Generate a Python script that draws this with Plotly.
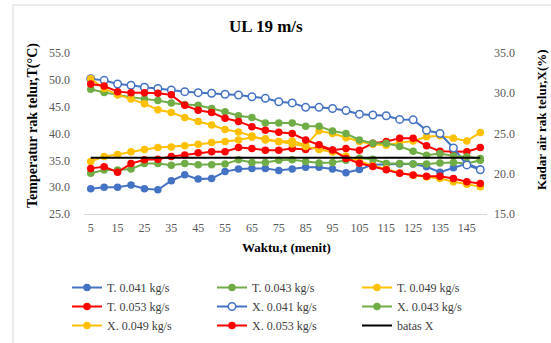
import plotly.graph_objects as go

waktu = [5, 10, 15, 20, 25, 30, 35, 40, 45, 50, 55, 60, 65, 70, 75,
         80, 85, 90, 95, 100, 105, 110, 115, 120, 125, 130, 135, 140, 145, 150]
x_ticks = [5, 15, 25, 35, 45, 55, 65, 75, 85, 95, 105, 115, 125, 135, 145]

T_041 = [29.7, 30.0, 30.0, 30.4, 29.7, 29.5, 31.2, 32.3, 31.5, 31.6, 32.9, 33.4, 33.5, 33.5, 33.1,
         33.4, 33.7, 33.7, 33.4, 32.7, 33.3, 34.2, 34.3, 34.3, 34.3, 33.8, 32.8, 33.6, 34.4, 33.4]
T_043 = [32.6, 33.2, 33.2, 33.4, 34.4, 34.4, 34.1, 34.4, 34.2, 34.2, 34.3, 35.1, 34.6, 34.6, 35.0,
         35.1, 34.8, 34.5, 34.6, 35.0, 35.4, 35.2, 34.4, 34.4, 34.3, 34.3, 34.5, 34.6, 34.4, 35.0]
T_049 = [34.8, 35.7, 36.1, 36.6, 37.0, 37.4, 37.5, 37.7, 38.0, 38.3, 38.5, 38.8, 39.3, 39.0, 38.5,
         38.6, 37.8, 40.5, 40.0, 39.2, 38.5, 38.0, 37.8, 38.3, 38.6, 39.4, 39.6, 39.1, 38.6, 40.2]
T_053 = [33.5, 33.8, 32.8, 34.4, 35.1, 35.2, 35.7, 36.0, 36.4, 36.6, 36.6, 37.4, 37.2, 36.9, 36.9,
         37.2, 37.0, 37.5, 36.9, 37.2, 36.9, 38.2, 38.5, 39.1, 39.1, 37.7, 36.7, 36.6, 36.6, 37.4]

X_041 = [31.8, 31.6, 31.15, 31.0, 30.74, 30.6, 30.4, 30.2, 30.07, 30.0, 29.87, 29.78, 29.57, 29.37, 28.95,
         28.8, 28.25, 28.25, 28.1, 27.85, 27.4, 27.3, 27.2, 26.75, 26.7, 25.4, 25.0, 23.2, 21.1, 20.5]
X_043 = [30.5, 30.1, 29.8, 29.5, 29.3, 29.1, 28.8, 28.6, 28.5, 28.1, 27.7, 27.2, 27.0, 26.3, 26.3,
         26.3, 25.9, 25.9, 25.3, 25.0, 24.2, 23.8, 23.8, 23.4, 22.8, 22.3, 22.5, 22.2, 22.1, 21.9]
X_049 = [31.8, 30.6, 29.8, 29.3, 28.7, 27.95, 27.6, 27.0, 26.5, 26.05, 25.5, 25.2, 24.7, 24.2, 24.0,
         23.7, 23.4, 23.0, 22.7, 22.2, 21.6, 21.0, 20.6, 20.1, 19.8, 19.6, 19.4, 19.0, 18.7, 18.4]
X_053 = [31.15, 30.9, 30.2, 30.07, 30.07, 30.0, 29.8, 28.5, 27.9, 27.6, 26.9, 26.5, 25.85, 25.4, 25.15,
         25.0, 24.2, 23.6, 22.95, 21.9, 21.3, 20.9, 20.5, 20.05, 19.85, 19.7, 19.7, 19.4, 19.0, 18.8]
batas_X = [22.0, 22.0, 22.0, 22.0, 22.0, 22.0, 22.0, 22.0, 22.0, 22.0, 22.0, 22.0, 22.0, 22.0, 22.0,
           22.0, 22.0, 22.0, 22.0, 22.0, 22.0, 22.0, 22.0, 22.0, 22.0, 22.0, 22.0, 22.0, 22.0, 22.0]

BLUE = "#4472C4"
GREEN = "#70AD47"
GOLD = "#FFC000"
RED = "#FF0000"
SERIF = "Liberation Serif, Times New Roman, serif"

fig = go.Figure()

def add(name, y, color, axis, hollow=False):
    fig.add_trace(go.Scatter(
        x=waktu, y=y, name=name, yaxis=axis, mode="lines+markers",
        line=dict(color=color, width=2),
        marker=dict(color="white" if hollow else color, symbol="circle", size=7.5,
                    line=dict(color=color, width=1.5 if hollow else 0)),
    ))

add("T. 0.041 kg/s", T_041, BLUE, "y")
add("T. 0.043 kg/s", T_043, GREEN, "y")
add("T. 0.049 kg/s", T_049, GOLD, "y")
add("T. 0.053 kg/s", T_053, RED, "y")
add("X. 0.041 kg/s", X_041, BLUE, "y2", hollow=True)
add("X. 0.043 kg/s", X_043, GREEN, "y2")
add("X. 0.049 kg/s", X_049, GOLD, "y2")
add("X. 0.053 kg/s", X_053, RED, "y2")
fig.add_trace(go.Scatter(x=waktu, y=batas_X, name="batas X", yaxis="y2", mode="lines",
                         line=dict(color="#000000", width=2)))

# plot area in page pixels: x 84..487, y 53..214
PX0, PW, PY1, PH = 84, 403, 214, 161

def px(x):
    return (x - PX0) / PW

def py(y):
    return (PY1 - y) / PH

tickfont = dict(family=SERIF, size=12, color="#595959")
fig.update_layout(
    width=551, height=343,
    margin=dict(l=84, r=64, t=53, b=129, autoexpand=False),
    paper_bgcolor="white", plot_bgcolor="white",
    showlegend=True,
    hovermode=False,
    xaxis=dict(range=[2.5, 152.5], tickvals=x_ticks, ticktext=[str(v) for v in x_ticks],
               showgrid=False, zeroline=False, showline=True, linecolor="#D9D9D9", linewidth=1,
               ticks="", tickfont=tickfont, ticklabelstandoff=3),
    yaxis=dict(range=[25, 55], dtick=5, tickformat=".1f", showgrid=False, zeroline=False,
               showline=False, ticks="", tickfont=tickfont, ticklabelstandoff=13),
    yaxis2=dict(range=[15, 35], dtick=5, tickformat=".1f", overlaying="y", side="right",
                showgrid=False, zeroline=False, showline=False, ticks="", tickfont=tickfont,
                ticklabelstandoff=6),
    legend=dict(orientation="h", x=px(67), xanchor="left", y=py(273), yanchor="top",
                entrywidth=100, entrywidthmode="pixels",
                font=dict(family=SERIF, size=12, color="#404040"),
                bgcolor="rgba(0,0,0,0)", traceorder="normal"),
    shapes=[dict(type="rect", xref="paper", yref="paper", x0=px(13), x1=px(620), y0=py(420),
                 y1=py(5),
                 line=dict(color="#D9D9D9", width=1), fillcolor="rgba(0,0,0,0)", layer="below")],
    annotations=[
        dict(text="<b>UL 19 m/s</b>", xref="paper", yref="paper", x=px(266), y=py(27),
             showarrow=False, font=dict(family=SERIF, size=17, color="#000000"), xanchor="center", yanchor="middle"),
        dict(text="<b>Temperatur rak telur,T(°C)</b>", xref="paper", yref="paper", x=px(33),
             y=py(126), showarrow=False, textangle=-90,
             font=dict(family=SERIF, size=14, color="#000000"), xanchor="center", yanchor="middle"),
        dict(text="<b>Kadar air rak telur,X(%)</b>", xref="paper", yref="paper", x=px(541),
             y=py(120), showarrow=False, textangle=-90,
             font=dict(family=SERIF, size=13, color="#000000"), xanchor="center", yanchor="middle"),
        dict(text="<b>Waktu,t (menit)</b>", xref="paper", yref="paper", x=px(286),
             y=py(247), showarrow=False,
             font=dict(family=SERIF, size=13, color="#000000"), xanchor="center", yanchor="middle"),
    ],
)

fig.write_html("out.html", config={"displayModeBar": False},
               post_script="document.body.style.margin='0';document.body.style.overflow='hidden';")
